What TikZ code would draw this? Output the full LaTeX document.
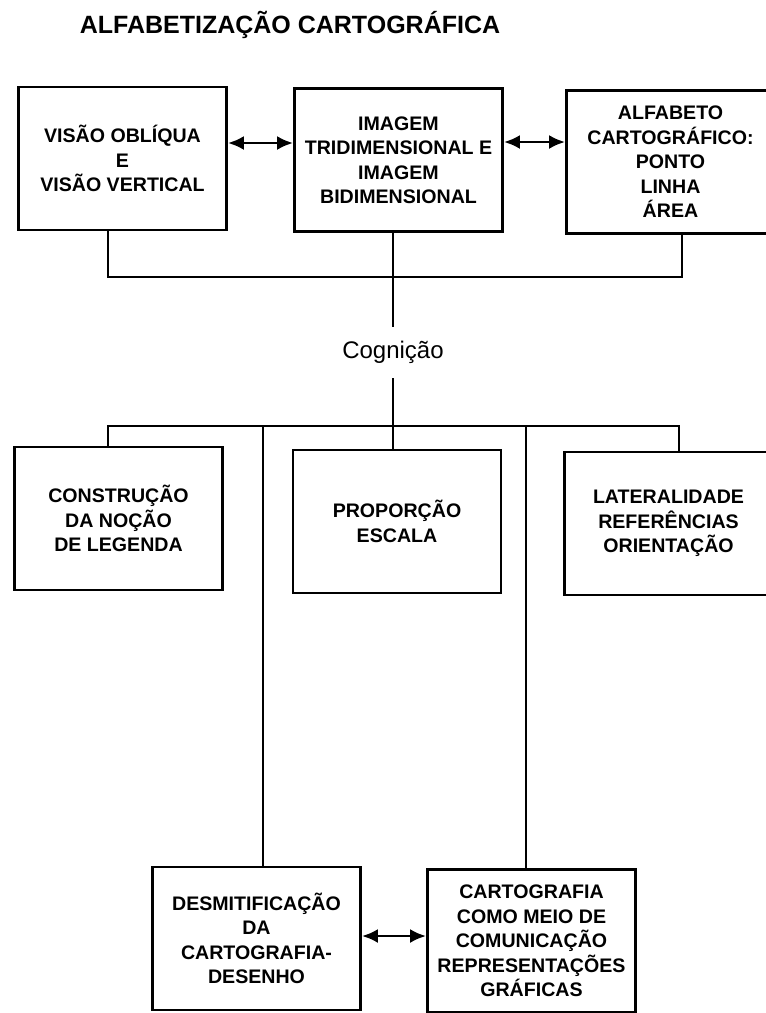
\documentclass[tikz,border=0pt]{standalone}
\usepackage{fontspec}
\setmainfont{Liberation Sans}
\usetikzlibrary{arrows.meta}

\begin{document}
\begin{tikzpicture}[x=1pt,y=-1pt,every node/.style={black},
	caixa/.style={draw,line width=2.8pt,minimum width=208pt,minimum height=143pt,inner sep=0pt,align=center,font=\bfseries\fontsize{19.6}{24.5}\selectfont},
	liga/.style={line width=2pt},
	seta/.style={line width=2.8pt,{Latex[length=16pt,width=14pt]}-{Latex[length=16pt,width=14pt]}}]
	\useasboundingbox (0,0) rectangle (766,1013);
	\clip (0,0) rectangle (766,1013);

	\node[anchor=base,font=\bfseries\fontsize{25}{30}\selectfont] (titulo) at (290,33) {ALFABETIZAÇÃO CARTOGRÁFICA};

	\node[caixa] (obliqua) at (122.5,158.5) {VISÃO OBLÍQUA\\E\\VISÃO VERTICAL};
	\node[caixa] (imagem) at (398.5,160) {IMAGEM\\TRIDIMENSIONAL E\\IMAGEM\\BIDIMENSIONAL};
	\node[caixa] (alfabeto) at (670.5,162) {ALFABETO\\CARTOGRÁFICO:\\PONTO\\LINHA\\ÁREA};

	\node[font=\fontsize{24}{28}\selectfont,minimum height=51pt,inner sep=0pt] (cognicao) at (393,352.5) {Cognição};

	\node[caixa] (legenda) at (118.5,518.5) {CONSTRUÇÃO\\DA NOÇÃO\\DE LEGENDA};
	\node[caixa] (escala) at (397,521.5) {PROPORÇÃO\\ESCALA};
	\node[caixa] (lateral) at (668.5,523.5) {LATERALIDADE\\REFERÊNCIAS\\ORIENTAÇÃO};

	\node[caixa] (desenho) at (256.5,938.5) {DESMITIFICAÇÃO\\DA\\CARTOGRAFIA-\\DESENHO};
	\node[caixa] (comunicacao) at (531.5,941) {CARTOGRAFIA\\COMO MEIO DE\\COMUNICAÇÃO\\REPRESENTAÇÕES\\GRÁFICAS};

	\coordinate (juntaA) at (393,277);
	\coordinate (juntaB) at (393,426);
	\coordinate (ramoE) at (263,426);
	\coordinate (ramoD) at (526,426);

	% ligacoes de cima
	\draw[liga] ([xshift=-14.5pt]obliqua.south) |- (juntaA) -| ([xshift=11.5pt]alfabeto.south);
	\draw[liga] (imagem.south -| cognicao.north) -- (cognicao.north);
	\draw[liga] (cognicao.south) -- (juntaB);

	% ligacoes de baixo
	\draw[liga] ([xshift=-10.5pt]legenda.north) |- (juntaB) -| ([xshift=10.5pt]lateral.north);
	\draw[liga] (juntaB) -- (escala.north -| juntaB);
	\draw[liga] (ramoE) -- (ramoE |- desenho.north);
	\draw[liga] (ramoD) -- (ramoD |- comunicacao.north);

	\draw[seta] ([yshift=15.5pt]obliqua.east) -- ([yshift=15.5pt]obliqua.east -| imagem.west);
	\draw[seta] ([yshift=18pt]imagem.east) -- ([yshift=18pt]imagem.east -| alfabeto.west);
	\draw[seta] ([yshift=2.5pt]desenho.east) -- ([yshift=2.5pt]desenho.east -| comunicacao.west);
\end{tikzpicture}
\end{document}
